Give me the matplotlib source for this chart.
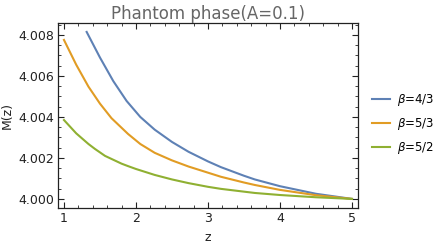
import numpy as np
import matplotlib
matplotlib.use('Agg')
import matplotlib.pyplot as plt
from matplotlib.ticker import MultipleLocator, FormatStrFormatter

# === Data ===
z_b43 = [1.315, 1.5, 1.685, 1.87, 2.06, 2.26, 2.5, 2.73, 3.0, 3.18, 3.5, 3.65, 4.0, 4.5, 5.0]
m_b43 = [4.00815, 4.00690, 4.00575, 4.00478, 4.00400, 4.00338, 4.00278, 4.00230,
         4.00183, 4.00155, 4.00113, 4.00095, 4.00062, 4.00025, 4.00000]

z_b53 = [1.0, 1.17, 1.34, 1.5, 1.66, 1.89, 2.06, 2.26, 2.5, 2.73, 3.0, 3.18, 3.5, 3.65, 4.0, 4.5, 5.0]
m_b53 = [4.00776, 4.00655, 4.00548, 4.00465, 4.00394, 4.00317, 4.00268, 4.00225, 4.00188,
         4.00158, 4.00128, 4.00108, 4.00080, 4.00068, 4.00044, 4.00018, 4.00000]

z_b52 = [1.0, 1.17, 1.34, 1.43, 1.57, 1.8, 1.89, 2.0, 2.26, 2.5, 2.73, 3.0, 3.18, 3.65, 4.0, 4.5, 5.0]
m_b52 = [4.00385, 4.00320, 4.00268, 4.00244, 4.00210, 4.00172, 4.00160, 4.00146,
         4.00117, 4.00095, 4.00077, 4.00059, 4.00049, 4.00029, 4.00019, 4.00008, 4.00000]

labels = [r'$\beta$=4/3', r'$\beta$=5/3', r'$\beta$=5/2']
colors = ['#5E81B5', '#E19C24', '#8FB032']

# === Figure ===
fig = plt.figure(figsize=(4.36, 2.49), dpi=100)
ax = fig.add_axes([0.133, 0.165, 0.688, 0.743])

lines = []
for zz, mm, lab, col in zip([z_b43, z_b53, z_b52], [m_b43, m_b53, m_b52], labels, colors):
    ln, = ax.plot(zz, mm, color=col, lw=1.5, label=lab)
    lines.append(ln)

ax.set_xlim(0.917, 5.083)
ax.set_ylim(3.99956, 4.00859)

ax.xaxis.set_major_locator(MultipleLocator(1))
ax.xaxis.set_minor_locator(MultipleLocator(0.2))
ax.yaxis.set_major_locator(MultipleLocator(0.002))
ax.yaxis.set_minor_locator(MultipleLocator(0.0005))
ax.yaxis.set_major_formatter(FormatStrFormatter('%.3f'))

ax.tick_params(which='both', direction='in', top=True, right=True,
               color='#222222', labelsize=9, labelcolor='#222222', pad=3)
ax.tick_params(which='major', length=4, width=0.8)
ax.tick_params(which='minor', length=2, width=0.6)
for s in ax.spines.values():
    s.set_color('#222222')
    s.set_linewidth(0.9)

ax.set_xlabel('z', fontsize=9, color='#222222', labelpad=4)
ax.set_ylabel('M(z)', fontsize=9, color='#222222', labelpad=3)
ax.set_title('Phantom phase(A=0.1)', fontsize=12, color='#666666', pad=3)

# legend to the right of the frame
fig.legend(handles=lines, loc='center left', bbox_to_anchor=(0.853, 0.502),
           frameon=False, fontsize=8.5, handlelength=1.5, handletextpad=0.65,
           labelspacing=0.7, borderpad=0, borderaxespad=0)

fig.savefig('out.png', dpi=100)
